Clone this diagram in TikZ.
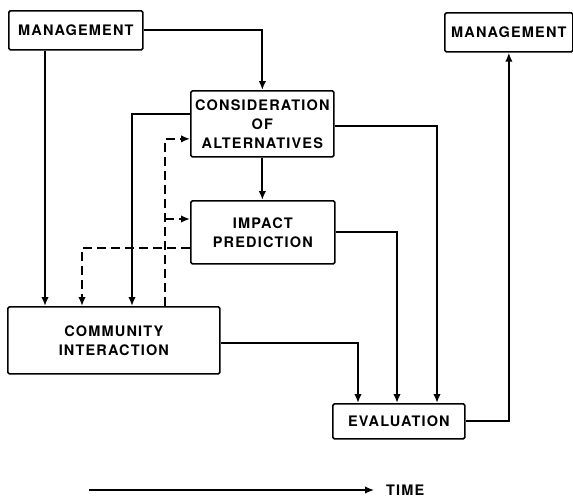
\documentclass[tikz,border=0pt]{standalone}
\usepackage{fontspec}
\setmainfont{TeX Gyre Heros}[LetterSpace=8]
\usetikzlibrary{arrows.meta}
\begin{document}
\begin{tikzpicture}[x=1pt,y=-1pt,
  box/.style={draw, line width=1.7pt, rounded corners=1.5pt, inner sep=0pt,
    align=center, anchor=north west,
    font=\fontsize{14.5}{19}\selectfont\bfseries},
  flow/.style={line width=2pt, -{Latex[length=9pt,width=7.5pt]}},
  dflow/.style={flow, dash pattern=on 9pt off 5pt}]
\useasboundingbox (0,0) rectangle (573,498);

% boxes
\node[box, minimum width=134pt, minimum height=39pt] (m1) at (8,10) {MANAGEMENT};
\node[box, minimum width=128pt, minimum height=39pt] (m2) at (444,12) {MANAGEMENT};
\node[box, minimum width=143pt, minimum height=66pt] (cons) at (190,90) {CONSIDERATION\\OF\\ALTERNATIVES};
\node[box, minimum width=144pt, minimum height=63pt] (imp) at (190,200) {IMPACT\\PREDICTION};
\node[box, minimum width=212pt, minimum height=67pt] (comm) at (7,306) {COMMUNITY\\INTERACTION};
\node[box, minimum width=132pt, minimum height=35pt] (eval) at (332,403) {EVALUATION};

% columns used by the vertical runs
\coordinate (xA) at (45,0);
\coordinate (xC) at (132,0);
\coordinate (xD) at (165,0);
\coordinate (xE) at (82,0);
\coordinate (xF) at (437,0);
\coordinate (xG) at (397,0);
\coordinate (xH) at (358,0);
\coordinate (jn) at (165,219);

% solid connectors
\draw[flow] (m1.east) -| (cons.north);
\draw[flow] (m1.south -| xA) -- (comm.north -| xA);
\draw[flow] ([yshift=10pt]cons.west) -| (comm.north -| xC);
\draw[flow] (cons.south) -- (cons.south |- imp.north);
\draw[flow] ([yshift=-2pt]cons.east) -| (eval.north -| xF);
\draw[flow] (imp.east) -| (eval.north -| xG);
\draw[flow] ([yshift=-2.5pt]comm.east) -| (eval.north -| xH);
\draw[flow] (eval.east) -| (m2.south);

% dashed feedback connectors
\draw[dflow] (comm.north -| xD) |- ([yshift=-15pt]cons.west);
\draw[dflow] (jn) -- (imp.west |- jn);
\draw[dflow] ([yshift=-15.5pt]imp.west) -| (comm.north -| xE);

% time axis
\coordinate (t0) at (89,490);
\node[anchor=west, inner sep=0pt, font=\fontsize{14.5}{16}\selectfont\bfseries] (time) at (386,490) {TIME};
\draw[flow, line width=1.5pt] (t0) -- ([xshift=-12pt]time.west);
\end{tikzpicture}
\end{document}
